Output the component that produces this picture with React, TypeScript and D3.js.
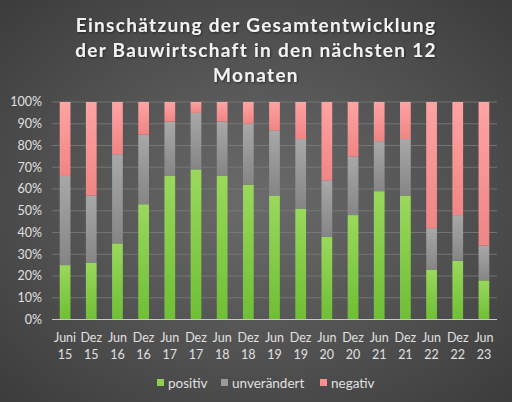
import * as d3 from "d3";

const periods = ["Juni 15", "Dez 15", "Jun 16", "Dez 16", "Jun 17", "Dez 17", "Jun 18", "Dez 18", "Jun 19", "Dez 19", "Jun 20", "Dez 20", "Jun 21", "Dez 21", "Jun 22", "Dez 22", "Jun 23"];
const positiv = [25, 26, 35, 53, 66, 69, 66, 62, 57, 51, 38, 48, 59, 57, 23, 27, 18];
const unveraendert = [41, 31, 41, 32, 25, 26, 25, 28, 30, 32, 26, 27, 23, 26, 19, 21, 16];
const negativ = [34, 43, 24, 15, 9, 5, 9, 10, 13, 17, 36, 25, 18, 17, 58, 52, 66];
const seriesNames = ["positiv", "unverändert", "negativ"];
const yTicks = [0, 10, 20, 30, 40, 50, 60, 70, 80, 90, 100];
const titleLines = ["Einschätzung der Gesamtentwicklung", "der Bauwirtschaft in den nächsten 12", "Monaten"];

const W = 512;
const H = 402;
const margin = { top: 102, right: 15, bottom: 82.5, left: 52 };
const font = "Lato, 'Open Sans', sans-serif";

const grads = [
  { id: "gPos", top: "#9ad85c", bottom: "#6fbf35" },
  { id: "gUnv", top: "#a8a8a8", bottom: "#858585" },
  { id: "gNeg", top: "#ffa3a3", bottom: "#f08585" },
];
const legendColors = ["#8fd14f", "#9a9a9a", "#ff8f8f"];

export default function App() {
  const innerW = W - margin.left - margin.right;
  const innerH = H - margin.top - margin.bottom;

  const x = d3.scaleBand<string>().domain(periods).range([0, innerW]).paddingInner(0.59).paddingOuter(0.295);
  const y = d3.scaleLinear().domain([0, 100]).range([innerH, 0]);

  const rows = periods.map((p, i) => ({ period: p, positiv: positiv[i], unveraendert: unveraendert[i], negativ: negativ[i] }));
  const stack = d3.stack<any>().keys(["positiv", "unveraendert", "negativ"]).offset(d3.stackOffsetExpand);
  const layers = stack(rows);

  const legendX = [157, 221, 320];

  return (
    <>
      <style>{"body{margin:0}"}</style>
      <svg width={W} height={H} style={{ display: "block" }}>
        <defs>
          <radialGradient id="bg" cx="50%" cy="50%" r="70%">
            <stop offset="0%" stopColor="#6b6b6b" />
            <stop offset="100%" stopColor="#3c3c3c" />
          </radialGradient>
          {grads.map((g) => (
            <linearGradient key={g.id} id={g.id} x1="0" y1="0" x2="0" y2="1">
              <stop offset="0%" stopColor={g.top} />
              <stop offset="100%" stopColor={g.bottom} />
            </linearGradient>
          ))}
          <filter id="ts" x="-5%" y="-20%" width="110%" height="140%">
            <feDropShadow dx="1" dy="1" stdDeviation="1" floodColor="#000" floodOpacity="0.5" />
          </filter>
        </defs>
        <rect width={W} height={H} fill="url(#bg)" />

        <g filter="url(#ts)">
          {titleLines.map((t, i) => (
            <text key={i} x={W / 2} y={32 + i * 25} textAnchor="middle" fill="#f2f2f2" fontFamily={font} fontWeight={700} fontSize={19} letterSpacing={1.3}>
              {t}
            </text>
          ))}
        </g>

        <g transform={`translate(${margin.left},${margin.top})`}>
          {yTicks.map((t) => (
            <g key={t}>
              {t > 0 && <line x1={0} x2={innerW} y1={y(t)} y2={y(t)} stroke="#7c7c7c" strokeWidth={0.8} />}
              <text x={-10} y={y(t)} dy="0.35em" textAnchor="end" fill="#e0e0e0" fontFamily={font} fontSize={12.5}>
                {t}%
              </text>
            </g>
          ))}

          {layers.map((layer, li) =>
            layer.map((d, i) => (
              <rect
                key={`${li}-${i}`}
                x={x(periods[i])}
                y={y(d[1] * 100)}
                width={x.bandwidth()}
                height={y(d[0] * 100) - y(d[1] * 100)}
                fill={`url(#${grads[li].id})`}
              />
            ))
          )}

          <line x1={0} x2={innerW} y1={innerH} y2={innerH} stroke="#c8c8c8" strokeWidth={1.2} />

          {periods.map((p) => {
            const [a, b] = p.split(" ");
            const cx = (x(p) ?? 0) + x.bandwidth() / 2;
            return (
              <text key={p} x={cx} textAnchor="middle" fill="#e0e0e0" fontFamily={font} fontSize={12.5}>
                <tspan x={cx} y={innerH + 22}>{a}</tspan>
                <tspan x={cx} y={innerH + 39}>{b}</tspan>
              </text>
            );
          })}
        </g>

        {seriesNames.map((s, i) => (
          <g key={s} transform={`translate(${legendX[i]},384)`}>
            <rect x={0} y={-5} width={7} height={7} fill={legendColors[i]} />
            <text x={11} y={0} dy="0.3em" fill="#e0e0e0" fontFamily={font} fontSize={13.5}>
              {s}
            </text>
          </g>
        ))}
      </svg>
    </>
  );
}
